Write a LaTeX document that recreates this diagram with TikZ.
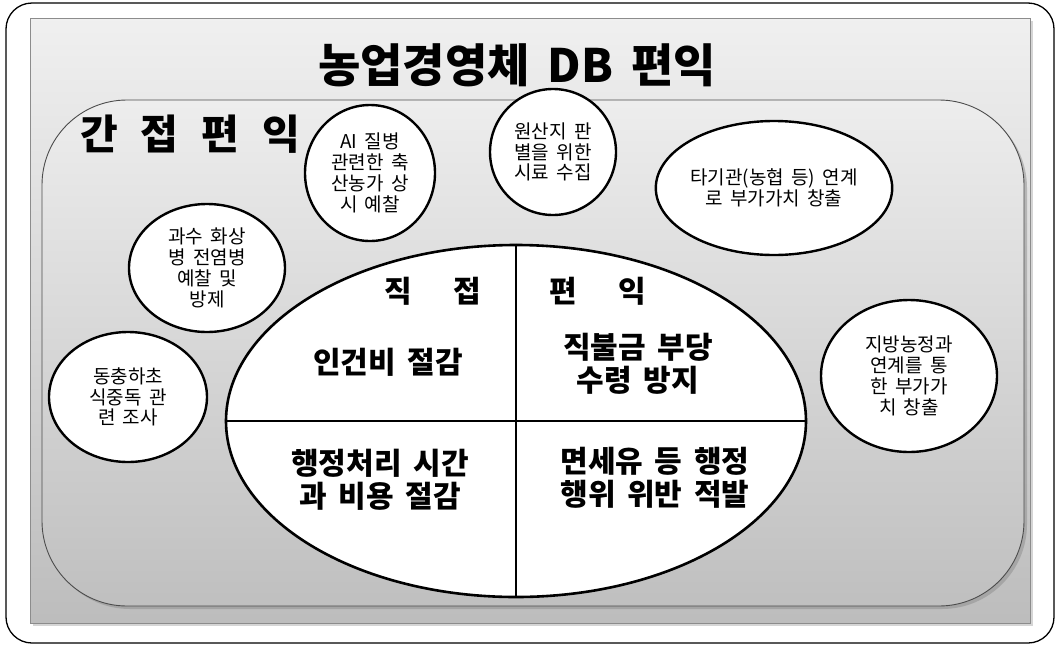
\documentclass[tikz,border=0pt]{standalone}
\usepackage{fontspec}
\setmainfont{Noto Sans CJK KR}[WordSpace=1.7]
\usetikzlibrary{shapes.geometric,shadows}
\begin{document}
\begin{tikzpicture}[x=1pt,y=-1pt,
  bubble/.style={ellipse,draw=black,line width=2.4pt,fill=white,inner sep=0pt,align=center,
    font=\fontsize{19}{20.8}\selectfont},
  quad/.style={align=center,font=\bfseries\fontsize{30}{33}\selectfont,inner sep=0pt},
]
\useasboundingbox (0,0) rectangle (1060,646);
% outer frame
\draw[line width=1.3pt,rounded corners=26pt,fill=white] (6,3) rectangle (1054,643);
% gray panel
\fill[gray!55,opacity=0.6] (33,21) rectangle (1033,626);
\shade[top color=black!6,bottom color=black!26,draw=black!45,line width=0.8pt] (30,18) rectangle (1030,623);
\node[font=\bfseries\fontsize{46}{50}\selectfont,inner sep=0pt] (title) at (517,65) {농업경영체 DB 편익};
% inner panel
\fill[black!45,opacity=0.5,rounded corners=85pt] (45,103) rectangle (1027,609);
\shade[top color=black!7,bottom color=black!25,draw=black!70,line width=0.9pt,rounded corners=85pt] (42,100) rectangle (1024,606);
\node[font=\bfseries\fontsize{41}{44}\selectfont,inner sep=0pt,anchor=west] (indirect) at (80,134) {간\hspace{23pt}접\hspace{23pt}편\hspace{23pt}익};
% central ellipse
\node[ellipse,draw=black,line width=2.6pt,fill=white,minimum width=580pt,minimum height=352pt,inner sep=0pt] (core) at (516,421) {};
\draw[line width=2.4pt] (core.north) -- (core.south);
\draw[line width=2.4pt] (core.west) -- (core.east);
\node[quad] (j1) at (398,291) {직};
\node[quad] (j2) at (467,291) {접};
\node[quad] (p1) at (563,291) {편};
\node[quad] (p2) at (632,291) {익};
\node[quad] (q1) at (388,362) {인건비 절감};
\node[quad] (q2) at (638,364) {직불금 부당\\수령 방지};
\node[quad] (q3) at (380,480) {행정처리 시간\\과 비용 절감};
\node[quad] (q4) at (655,478) {면세유 등 행정\\행위 위반 적발};
% bubbles
\node[bubble,minimum width=130pt,minimum height=136pt] (ai) at (370,173) {AI 질병\\관련한 축\\산농가 상\\시 예찰};
\node[bubble,minimum width=126pt,minimum height=126pt] (origin) at (553,152) {원산지 판\\별을 위한\\시료 수집};
\node[bubble,minimum width=193pt,minimum height=134pt] (other) at (774,188) {타기관(농협 등) 연계\\로 부가가치 창출};
\node[bubble,minimum width=156pt,minimum height=128pt] (fruit) at (207,268) {과수 화상\\병 전염병\\예찰 및\\방제};
\node[bubble,minimum width=158pt,minimum height=130pt] (cordy) at (128,397) {동충하초\\식중독 관\\련 조사};
\node[bubble,minimum width=176pt,minimum height=152pt] (local) at (909,376) {지방농정과\\연계를 통\\한 부가가\\치 창출};
\end{tikzpicture}
\end{document}
